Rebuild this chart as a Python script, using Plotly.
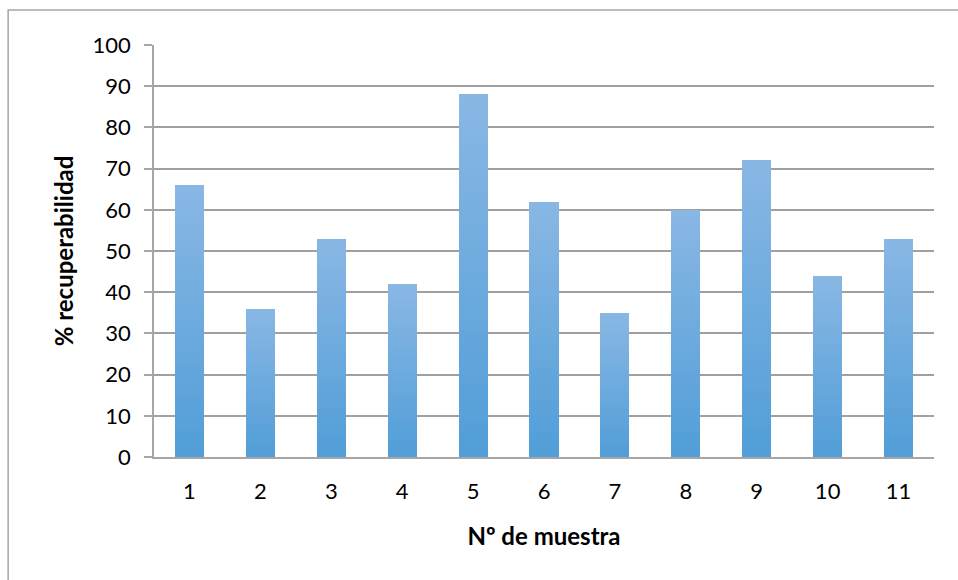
import plotly.graph_objects as go

# Recoverability per sample
muestras = ["1", "2", "3", "4", "5", "6", "7", "8", "9", "10", "11"]
recuperabilidad = [66, 36, 53, 42, 88, 62, 35, 60, 72, 44, 53]
y_ticks = [0, 10, 20, 30, 40, 50, 60, 70, 80, 90, 100]

# Vertical gradient for each bar: each bar is stacked from thin slices,
# dark blue at the base fading to light blue at the top.
N_SLICES = 40
bottom_rgb = (82, 158, 216)
top_rgb = (137, 183, 228)


def blend(t):
    r, g, b = (round(bottom_rgb[i] + (top_rgb[i] - bottom_rgb[i]) * t) for i in range(3))
    return f"rgb({r},{g},{b})"


fig = go.Figure()
for k in range(N_SLICES):
    fig.add_trace(go.Bar(
        x=muestras,
        y=[v / N_SLICES for v in recuperabilidad],
        marker=dict(color=blend(k / (N_SLICES - 1)), line=dict(width=0)),
        width=0.41,
        showlegend=False,
        hoverinfo="skip",
    ))

font_family = "Lato, 'Open Sans', sans-serif"

fig.update_layout(
    barmode="stack",
    bargap=0,
    width=958,
    height=580,
    margin=dict(l=154, r=24, t=45, b=123),
    paper_bgcolor="white",
    plot_bgcolor="white",
    font=dict(family=font_family, color="#000000", size=22),
    xaxis=dict(
        type="category",
        showgrid=False,
        showline=True,
        linecolor="#a6a6a6",
        linewidth=1.5,
        ticks="",
        tickfont=dict(size=22),
        ticklabelstandoff=14,
        title=dict(text="<b>Nº de muestra</b>", font=dict(size=24), standoff=25),
    ),
    yaxis=dict(
        range=[0, 100],
        tickvals=y_ticks,
        showgrid=True,
        gridcolor="#a0a0a0",
        gridwidth=1.5,
        showline=True,
        linecolor="#a6a6a6",
        linewidth=1.5,
        ticks="outside",
        ticklen=8,
        tickcolor="#a6a6a6",
        tickwidth=1.5,
        tickfont=dict(size=22),
        ticklabelstandoff=9,
        zeroline=False,
        title=dict(text="<b>% recuperabilidad</b>", font=dict(size=24), standoff=12),
    ),
    shapes=[
        dict(
            type="rect",
            xref="paper", yref="paper",
            x0=-0.187, x1=1.04, y0=-0.31, y1=1.085,
            line=dict(color="#a6a6a6", width=1.5),
            fillcolor="rgba(0,0,0,0)",
            layer="below",
        )
    ],
)

fig.write_html("out.html")
